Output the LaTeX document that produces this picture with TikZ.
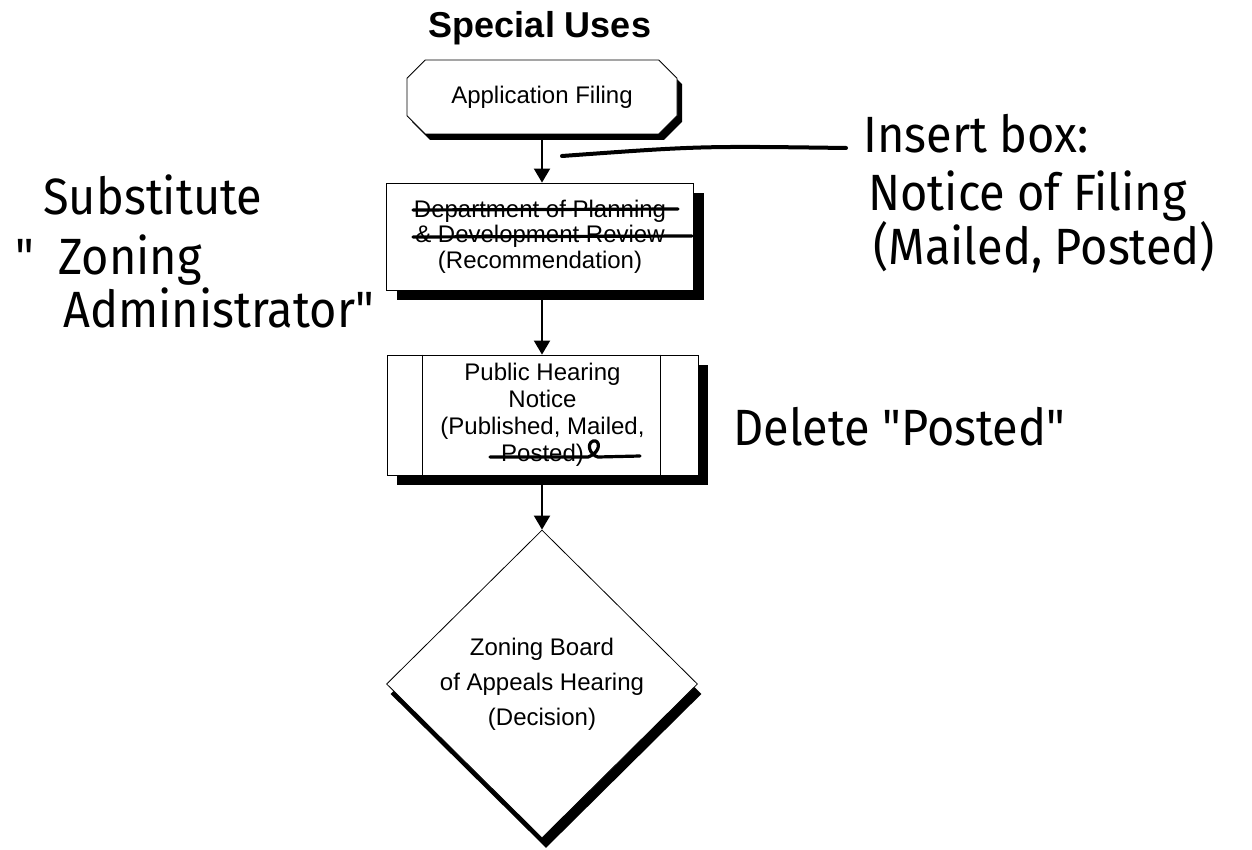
\documentclass[tikz,border=0pt]{standalone}
\usepackage{fontspec}
\setmainfont{Liberation Sans}
\newfontfamily\handfont[FakeStretch=0.92]{Fira Sans}
\usetikzlibrary{arrows.meta,shapes.geometric,shapes.misc,shadows}
\tikzset{
  startbox/.style = {chamfered rectangle, chamfered rectangle xsep=9pt, draw, thin, fill=white, inner sep=0pt, minimum width=135pt, minimum height=37pt, font=\fontsize{12}{13.5}\selectfont, drop shadow={shadow xshift=2.5pt, shadow yshift=-3pt, fill=black, opacity=1}},
  flowbox/.style = {rectangle, draw, thin, fill=white, inner sep=0pt, align=center, drop shadow={shadow xshift=5pt, shadow yshift=-5pt, fill=black, opacity=1}},
  decision/.style = {diamond, draw, thin, fill=white, inner sep=0pt, minimum width=155.5pt, minimum height=154pt, drop shadow={shadow xshift=2pt, shadow yshift=-5pt, fill=black, opacity=1}},
  flowarrow/.style = {-{Triangle[width=8pt,length=7pt]}, line width=1pt},
  handnote/.style = {font=\handfont\fontsize{25.5}{26}\selectfont, inner sep=0pt, anchor=base west},
  handstroke/.style = {line width=1.6pt, line cap=round, line join=round},
}

\begin{document}
\begin{tikzpicture}[x=0.5pt, y=-0.5pt]
\useasboundingbox[fill=white] (0,0) rectangle (1252,850);

% title
\node[font=\bfseries\fontsize{18}{20}\selectfont] (title) at (540,28) {Special Uses};

% flow chart
\node[startbox] (filing) at (542,97) {Application Filing};
\node[flowbox, minimum width=153.5pt, minimum height=53.5pt, font=\fontsize{12}{12.75}\selectfont] (review) at (540,236.5)
  {Department of Planning\\\& Development Review\\(Recommendation)};
\node[flowbox, minimum width=155.5pt, minimum height=60pt, font=\fontsize{12}{13.5}\selectfont] (hearing) at (542.5,415)
  {Public Hearing\\Notice\\(Published, Mailed,\\Posted)};
\draw[thin] ([xshift=18pt]hearing.north west) -- ([xshift=18pt]hearing.south west);
\draw[thin] ([xshift=-19pt]hearing.north east) -- ([xshift=-19pt]hearing.south east);
\node[decision] (board) at (542,684) {};
\node[font=\fontsize{12}{17.5}\selectfont, align=center] (boardtext) at (board) {Zoning Board\\of Appeals Hearing\\(Decision)};

\draw[flowarrow] (filing.south) -- (filing.south |- review.north);
\draw[flowarrow] (filing.south |- review.south) -- (filing.south |- hearing.north);
\draw[flowarrow] (filing.south |- hearing.south) -- (board.north);

% hand marks
\draw[handstroke] (413,210) -- (678,209);
\draw[handstroke] (413,237) -- (692,236);
\draw[handstroke] (490,457) -- (588,457) .. controls (602,452) and (600,439) .. (593,441)
  .. controls (586,444) and (590,455) .. (598,457) -- (640,456);
\coordinate (tickstart) at (562,156);
\coordinate (tickend) at (846,148);
\draw[handstroke, line width=2pt] (tickstart) .. controls (700,146) .. (tickend);

% hand notes
\node[handnote] (subst) at (43,215) {Substitute};
\node[handnote] (zoning) at (15,275) {"\hspace{12pt}Zoning};
\node[handnote] (admin) at (63,327) {Administrator"};
\node[handnote] (noteins) at (863,153) {Insert box:};
\node[handnote] (notefiling) at (868,211) {Notice of Filing};
\node[handnote] (notemailed) at (873,264) {(Mailed, Posted)};
\node[handnote] (delpost) at (733,445) {Delete "Posted"};

\end{tikzpicture}
\end{document}
